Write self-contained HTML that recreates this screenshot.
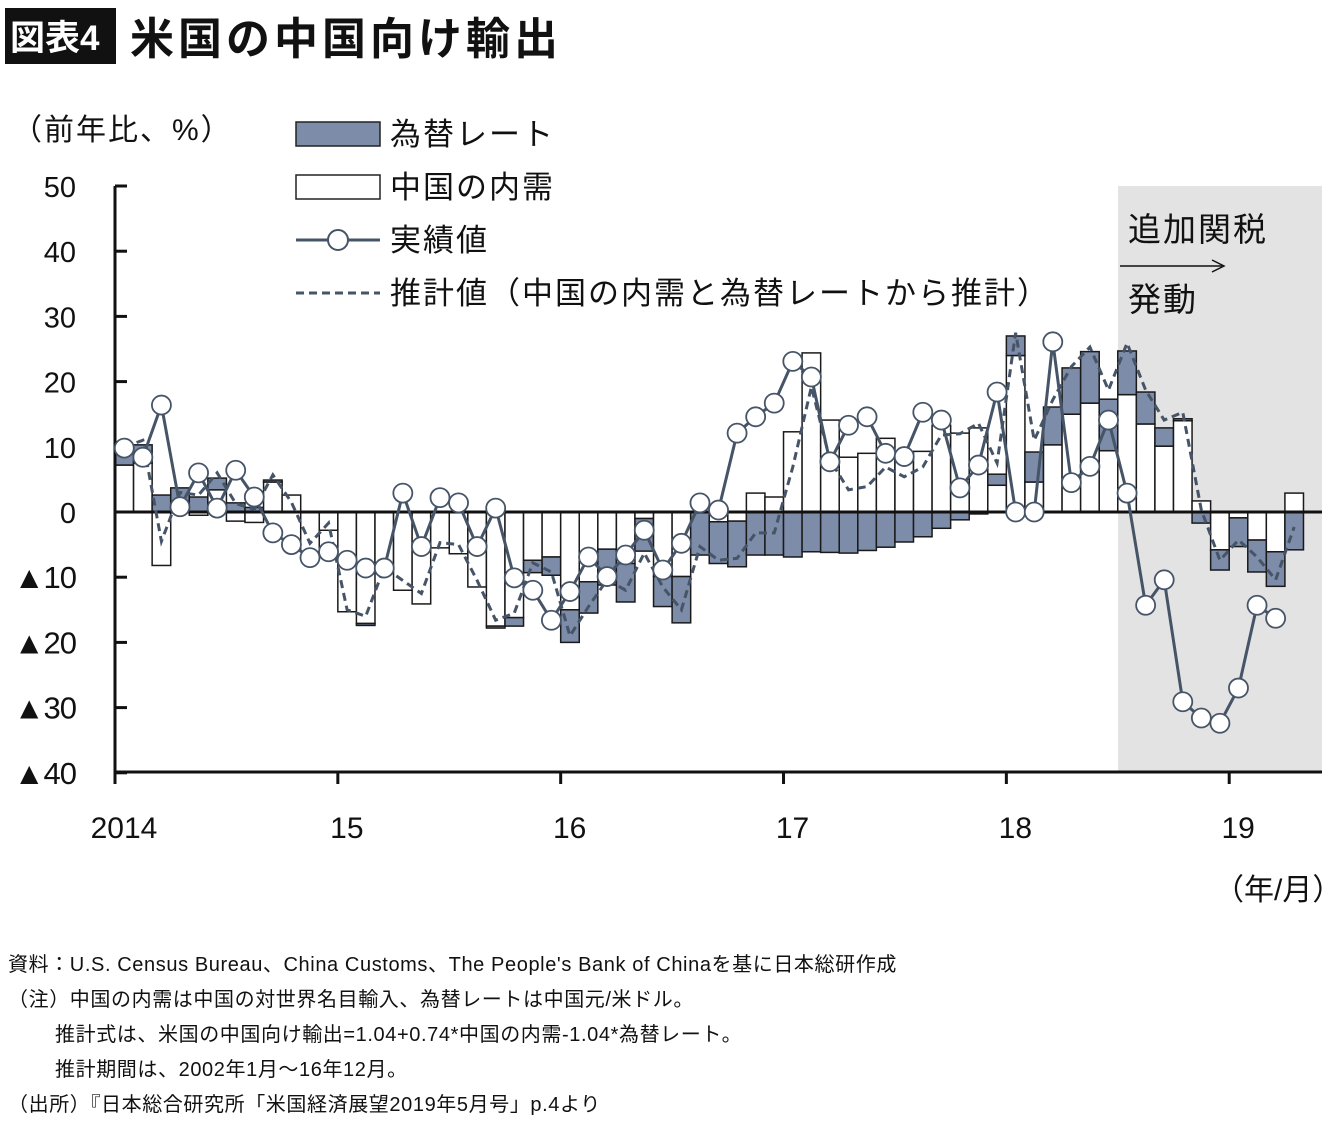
<!DOCTYPE html>
<html><head><meta charset="utf-8"><style>
body{margin:0;background:#fff;width:1340px;height:1120px;overflow:hidden;font-family:"Liberation Sans","Noto Sans CJK JP",sans-serif}
svg text{font-family:"Liberation Sans","Noto Sans CJK JP",sans-serif}
</style></head><body>
<svg id="chart" width="1340" height="1120" xmlns="http://www.w3.org/2000/svg">
<rect x="5" y="8" width="111" height="56" fill="#111"/>
<text x="10" y="50" font-size="35" font-weight="bold" fill="#fff">図表4</text>
<text x="130" y="54" font-size="44" font-weight="bold" fill="#111" letter-spacing="4">米国の中国向け輸出</text>
<text x="12" y="140" font-size="30" fill="#111" letter-spacing="2">（前年比、%）</text>
<rect x="1118" y="186" width="204" height="586" fill="#e3e3e3"/>
<g id="plot"></g>
<g>
<rect x="296" y="122" width="84" height="24" fill="#7d8ca8" stroke="#222" stroke-width="1.5"/>
<text x="390" y="145" font-size="31" fill="#111" letter-spacing="2">為替レート</text>
<rect x="296" y="175" width="84" height="24" fill="#fff" stroke="#222" stroke-width="1.5"/>
<text x="390" y="198" font-size="31" fill="#111" letter-spacing="2">中国の内需</text>
<line x1="296" y1="240" x2="380" y2="240" stroke="#465467" stroke-width="3"/>
<circle cx="338" cy="240" r="10" fill="#fff" stroke="#465467" stroke-width="2"/>
<text x="390" y="251" font-size="31" fill="#111" letter-spacing="2">実績値</text>
<line x1="296" y1="293" x2="380" y2="293" stroke="#465467" stroke-width="3" stroke-dasharray="8,5"/>
<text x="390" y="304" font-size="31" fill="#111" letter-spacing="2">推計値（中国の内需と為替レートから推計）</text>
</g>
<text x="1128" y="241" font-size="33" fill="#111" letter-spacing="2">追加関税</text>
<line x1="1120" y1="266" x2="1222" y2="266" stroke="#111" stroke-width="1.5"/>
<path d="M1212 260 L1224 266 L1212 272" fill="none" stroke="#111" stroke-width="1.5"/>
<text x="1128" y="311" font-size="33" fill="#111" letter-spacing="2">発動</text>
<text x="1214" y="900" font-size="30" fill="#111">（年/月）</text>
<g font-size="20" fill="#111" letter-spacing="0.6">
<text x="8" y="971">資料：U.S. Census Bureau、China Customs、The People's Bank of Chinaを基に日本総研作成</text>
<text x="8" y="1006">（注）中国の内需は中国の対世界名目輸入、為替レートは中国元/米ドル。</text>
<text x="55" y="1041">推計式は、米国の中国向け輸出=1.04+0.74*中国の内需-1.04*為替レート。</text>
<text x="55" y="1076">推計期間は、2002年1月～16年12月。</text>
<text x="8" y="1111">（出所）『日本総合研究所「米国経済展望2019年5月号」p.4より</text>
</g>
</svg>
<script>
const demand=[7.2,7.5,-8.2,0.5,-0.5,3.4,-1.4,-1.6,4.6,2.6,-6.1,-2.8,-15.3,-17.1,-8.5,-12,-14.1,-5.5,-6.4,-11.5,-17.5,-16.2,-7.4,-6.9,-15,-10.7,-5.7,-7.9,-1,-9.9,-9.9,0,-1.5,-1.4,2.9,2.3,12.3,24.4,14.1,8.4,9,11.3,9,9.3,13.3,12.1,12.9,4.1,24,4.6,10.3,15,16.7,9.4,18,13.5,10.1,14,1.7,-5.8,-0.9,-4.3,-6.1,2.9];
const fx=[2.8,2.8,2.6,3.2,2.3,1.8,1.4,0.7,0.3,0,0,0,0,-0.3,0,0,0,0,0,0,-0.3,-1.3,-1.9,-2.8,-5,-4.8,-5.5,-5.9,-5,-4.6,-7.1,-6.6,-6.4,-7,-6.6,-6.6,-6.9,-6.1,-6.2,-6.3,-5.9,-5.4,-4.6,-3.8,-2.5,-1.2,-0.3,1.7,3,4.6,5.8,7.1,7.9,7.9,6.7,4.9,2.8,0.3,-1.7,-3.1,-4.4,-4.9,-5.3,-5.8];
const actual=[9.8,8.4,16.4,0.8,6,0.6,6.4,2.3,-3.2,-5,-7,-6.1,-7.4,-8.6,-8.6,2.9,-5.3,2.2,1.4,-5.3,0.6,-10.1,-12,-16.6,-12.2,-6.9,-9.9,-6.6,-2.8,-8.9,-4.8,1.4,0.3,12.1,14.6,16.7,23.1,20.7,7.7,13.3,14.6,9,8.5,15.3,14.1,3.7,7.2,18.4,0,0,26.1,4.5,7,14.1,2.9,-14.3,-10.4,-29.1,-31.6,-32.4,-27,-14.3,-16.3];
const estimate=[10,11,-4.5,3,2.6,6,1.3,0.4,5.7,1.5,-4.8,-1.7,-15,-16,-8.5,-10.5,-12.5,-4.7,-5,-10.5,-16.6,-15.5,-7.8,-9.2,-19,-14.5,-10.4,-12,-6.3,-11.5,-15,-5.3,-7.4,-7.1,-3.2,-3.2,6.9,19.2,8,3.4,3.9,6.9,5.4,6.9,11.8,12,13.6,7.5,27.5,11,17.2,22.3,25.3,18.7,25.9,18.7,14.1,15.3,0.3,-7.4,-4.3,-6.9,-10.4,-2.3];
const yTicks=[50,40,30,20,10,0,-10,-20,-30,-40];
const yTickLabels=["50","40","30","20","10","0","10","20","30","40"];
const xYears=["2014","15","16","17","18","19"];
const NS="http://www.w3.org/2000/svg";
const X0=115,MW=18.57,Y0=512,PY=6.52;
const xL=i=>X0+i*MW, xC=i=>X0+(i+0.5)*MW, y=v=>Y0-v*PY;
const g=document.getElementById('plot');
function mk(t,a){const e=document.createElementNS(NS,t);for(const k in a)e.setAttribute(k,a[k]);g.appendChild(e);return e;}
function bar(i,a,b,fill,name){const t=Math.min(y(a),y(b)),h=Math.abs(y(a)-y(b));if(h<0.3)return;
const r=mk('rect',{x:xL(i),y:t,width:MW,height:h,fill:fill,stroke:'#1a1a1a','stroke-width':1.5});

}
for(let i=0;i<demand.length;i++){
 const d=demand[i],f=fx[i];
 bar(i,0,d,'#fff','bar-demand');
 if((d>=0&&f>=0)||(d<0&&f<0))bar(i,d,d+f,'#7d8ca8','bar-fx');else bar(i,0,f,'#7d8ca8','bar-fx');
}
let ax=mk('line',{x1:X0,y1:186,x2:X0,y2:772,stroke:'#111','stroke-width':3});


let bx=mk('line',{x1:X0,y1:772,x2:1322,y2:772,stroke:'#111','stroke-width':3});


let zl=mk('line',{x1:X0,y1:Y0,x2:1322,y2:Y0,stroke:'#111','stroke-width':3});


yTicks.forEach((v,k)=>{
 mk('line',{x1:X0,y1:y(v),x2:X0+12,y2:y(v),stroke:'#111','stroke-width':3});
 const t=mk('text',{x:76,y:y(v)+11,'font-size':29,'text-anchor':'end',fill:'#111'});
 t.textContent=(v<0?'▲':'')+yTickLabels[k];
 if(v<0){t.setAttribute('font-size','31');t.setAttribute('letter-spacing','-1');}
 
 
});
xYears.forEach((s,k)=>{
 const xx=xL(k*12);
 mk('line',{x1:xx,y1:772,x2:xx,y2:784,stroke:'#111','stroke-width':3});
 const t=mk('text',{x:xx+9,y:838,'font-size':30,'text-anchor':'middle',fill:'#111'});t.textContent=s;
 
 
});
const est=mk('polyline',{points:estimate.map((v,i)=>xC(i)+','+y(v)).join(' '),fill:'none',stroke:'#465467','stroke-width':3,'stroke-dasharray':'8,5'});


const act=mk('polyline',{points:actual.map((v,i)=>xC(i)+','+y(v)).join(' '),fill:'none',stroke:'#465467','stroke-width':3});


actual.forEach((v,i)=>{const c=mk('circle',{cx:xC(i),cy:y(v),r:9.5,fill:'#fff',stroke:'#465467','stroke-width':1.8});

});
</script>
</body></html>
